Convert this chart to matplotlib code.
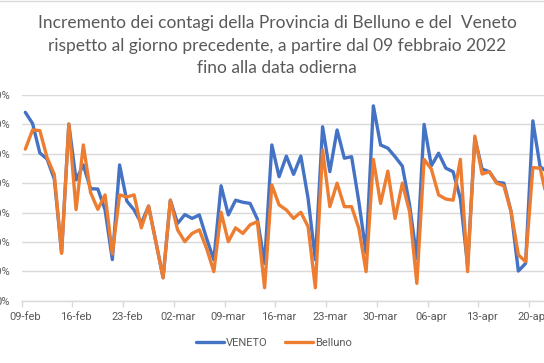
import matplotlib
matplotlib.use("Agg")
import matplotlib.pyplot as plt
from matplotlib.lines import Line2D
import numpy as np

# ---- data ----
tick_labels = ["09-feb", "16-feb", "23-feb", "02-mar", "09-mar", "16-mar",
               "23-mar", "30-mar", "06-apr", "13-apr", "20-apr"]
y_tick_values = [0, 10, 20, 30, 40, 50, 60, 70]

veneto = [64.1, 60.3, 50.3, 48.2, 41.4, 16.4, 60.1, 41.1, 46.2, 38.1,
          38.0, 30.9, 14.0, 46.2, 33.9, 30.9, 26.3, 32.2, 20.1, 7.8,
          34.2, 26.3, 29.3, 28.0, 29.2, 21.2, 13.9, 39.1, 29.2, 34.2,
          33.5, 33.1, 27.8, 12.7, 53.0, 42.2, 49.2, 43.0, 49.2, 34.8,
          13.9, 59.2, 43.9, 58.1, 48.5, 49.0, 33.7, 16.2, 66.3, 53.0,
          51.9, 49.0, 45.8, 32.6, 14.4, 60.0, 45.9, 50.2, 45.1, 43.9,
          34.8, 12.0, 55.3, 44.8, 43.9, 40.3, 40.0, 30.3, 10.1, 12.7,
          61.2, 45.6, 43.8]

belluno = [51.6, 58.1, 57.9, 48.7, 42.9, 16.1, 60.1, 31.0, 53.0, 36.8,
           31.1, 36.0, 15.9, 36.0, 35.3, 36.0, 24.8, 32.2, 20.1, 7.8,
           34.2, 24.1, 20.1, 22.9, 24.1, 17.8, 9.9, 30.1, 20.1, 24.8,
           22.9, 25.8, 26.9, 4.4, 39.4, 32.6, 30.9, 28.0, 30.1, 25.2,
           4.4, 51.3, 32.0, 40.0, 32.0, 32.0, 24.6, 9.9, 48.1, 33.1,
           44.1, 28.0, 40.0, 30.3, 5.9, 48.1, 44.8, 36.0, 34.6, 34.2,
           48.1, 9.9, 56.0, 43.1, 43.9, 40.0, 39.1, 30.3, 15.6, 13.3,
           45.3, 45.1, 34.3]

title_lines = ["Incremento dei contagi della Provincia di Belluno e del  Veneto",
               "rispetto al giorno precedente, a partire dal 09 febbraio 2022",
               "fino alla data odierna"]

W, H = 544, 363
fig = plt.figure(figsize=(W / 100, H / 100), dpi=100)
fig.patch.set_facecolor("white")

# axes placement (pixels): left 21.7, bottom(y=0) 300.7, top(y=70) 95, right beyond figure
x_left_px, x_right_px = 21.7, 554.6
y_top_px, y_bot_px = 95.0, 300.7
ax = fig.add_axes([x_left_px / W, (H - y_bot_px) / H,
                   (x_right_px - x_left_px) / W, (y_bot_px - y_top_px) / H])
ax.set_facecolor("white")

x = np.arange(len(veneto))
ax.plot(x, veneto, color="#4472C4", lw=2.4, solid_joinstyle="round",
        solid_capstyle="round", label="VENETO", zorder=3)
ax.plot(x, belluno, color="#ED7D31", lw=2.4, solid_joinstyle="round",
        solid_capstyle="round", label="Belluno", zorder=4)

ax.set_xlim(-0.5, 73)
ax.set_ylim(0, 70)

grid_c = "#d9d9d9"
text_c = "#595959"
font_ticks = "Roboto"

# y axis
ax.set_yticks(y_tick_values)
ax.set_yticklabels([f"{v}%" for v in y_tick_values], fontsize=8,
                   color=text_c, family=font_ticks)
ax.tick_params(axis="y", length=0, pad=8.4)
ax.yaxis.grid(True, color=grid_c, lw=1.0)
ax.set_axisbelow(True)

# x axis
major = list(range(0, 7 * len(tick_labels), 7))
ax.set_xticks(major)
ax.set_xticklabels(tick_labels, fontsize=8, color=text_c, family=font_ticks)
ax.set_xticks([m - 0.5 for m in major], minor=True)
ax.tick_params(axis="x", which="major", length=0, pad=8)
ax.tick_params(axis="x", which="minor", length=4, color=grid_c, width=1)

for s in ["top", "right", "left"]:
    ax.spines[s].set_visible(False)
ax.spines["bottom"].set_color(grid_c)
ax.spines["bottom"].set_linewidth(1.0)

# legend
leg = ax.legend(loc="center", bbox_to_anchor=(274 / W, (H - 343) / H),
                bbox_transform=fig.transFigure, ncol=2, frameon=False,
                prop={"family": font_ticks, "size": 8},
                handlelength=2.5, handletextpad=0.2, columnspacing=1.6)
for t in leg.get_texts():
    t.set_color(text_c)

# title
baselines = [28.3, 50.5, 72.8]
for line, b in zip(title_lines, baselines):
    fig.text(277 / W, (H - b) / H, line, ha="center", va="baseline",
             fontsize=12.5, color=text_c, family="Lato")

# chart border line at the top
fig.add_artist(Line2D([0, 1], [1 - 0.8 / H, 1 - 0.8 / H], color=grid_c,
                      lw=1.0, transform=fig.transFigure))

fig.savefig("out.png", dpi=100, facecolor="white")
